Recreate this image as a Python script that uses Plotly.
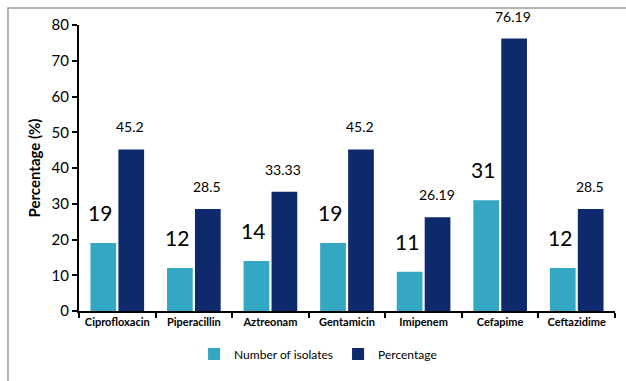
import plotly.graph_objects as go

categories = ["Ciprofloxacin", "Piperacillin", "Aztreonam", "Gentamicin", "Imipenem", "Cefapime", "Ceftazidime"]
isolates = [19, 12, 14, 19, 11, 31, 12]
percentage = [45.2, 28.5, 33.33, 45.2, 26.19, 76.19, 28.5]
pct_labels = ["45.2", "28.5", "33.33", "45.2", "26.19", "76.19", "28.5"]
yticks = [0, 10, 20, 30, 40, 50, 60, 70, 80]

FONT = "Lato"
cyan = "#34A7C2"
navy = "#0E2A6C"

fig = go.Figure()
fig.add_trace(go.Bar(x=categories, y=isolates, name="Number of isolates",
                     marker=dict(color=cyan, line=dict(width=0))))
fig.add_trace(go.Bar(x=categories, y=percentage, name="Percentage",
                     marker=dict(color=navy, line=dict(width=0))))

annotations = []
for c, v in zip(categories, isolates):
    annotations.append(dict(x=c, y=v, xref="x", yref="y", text=str(v), showarrow=False,
                            xshift=-17, yshift=16, yanchor="bottom",
                            font=dict(family=FONT, size=21, color="black")))
for c, v, t in zip(categories, percentage, pct_labels):
    annotations.append(dict(x=c, y=v, xref="x", yref="y", text=t, showarrow=False,
                            xshift=13, yshift=12, yanchor="bottom",
                            font=dict(family=FONT, size=14, color="black")))

fig.update_layout(
    width=626, height=381,
    margin=dict(l=79, r=11, t=25, b=70, autoexpand=False),
    paper_bgcolor="white", plot_bgcolor="white",
    barmode="group", bargap=0.27, bargroupgap=0.08,
    font=dict(family=FONT, color="black"),
    showlegend=True,
    legend=dict(orientation="h", x=0.446, xanchor="center", y=-0.10, yanchor="top",
                font=dict(family=FONT, size=12), traceorder="normal", itemwidth=30),
    annotations=annotations,
    shapes=[dict(type="rect", xref="paper", yref="paper",
                 x0=-0.1325, x1=1.2, y0=-0.5, y1=1.0594,
                 line=dict(color="#9a9a9a", width=1.5), fillcolor="rgba(0,0,0,0)", layer="below")],
)
fig.update_xaxes(showline=True, linecolor="black", linewidth=2, ticks="outside",
                 tickson="boundaries", ticklen=5, tickcolor="black", tickwidth=1.5,
                 automargin=False,
                 tickvals=categories, ticktext=["<b>%s</b>" % c for c in categories],
                 tickfont=dict(family=FONT, size=11, color="black"), showgrid=False)
fig.update_yaxes(range=[0, 80], tickvals=yticks, showline=True, linecolor="black", linewidth=2,
                 ticks="outside", ticklen=5, tickcolor="black", tickwidth=1.5, showgrid=False,
                 zeroline=False, automargin=False, tickfont=dict(family=FONT, size=15, color="black"),
                 title=dict(text="<b>Percentage (%)</b>", font=dict(family=FONT, size=15), standoff=7))
fig.write_html("out.html")
